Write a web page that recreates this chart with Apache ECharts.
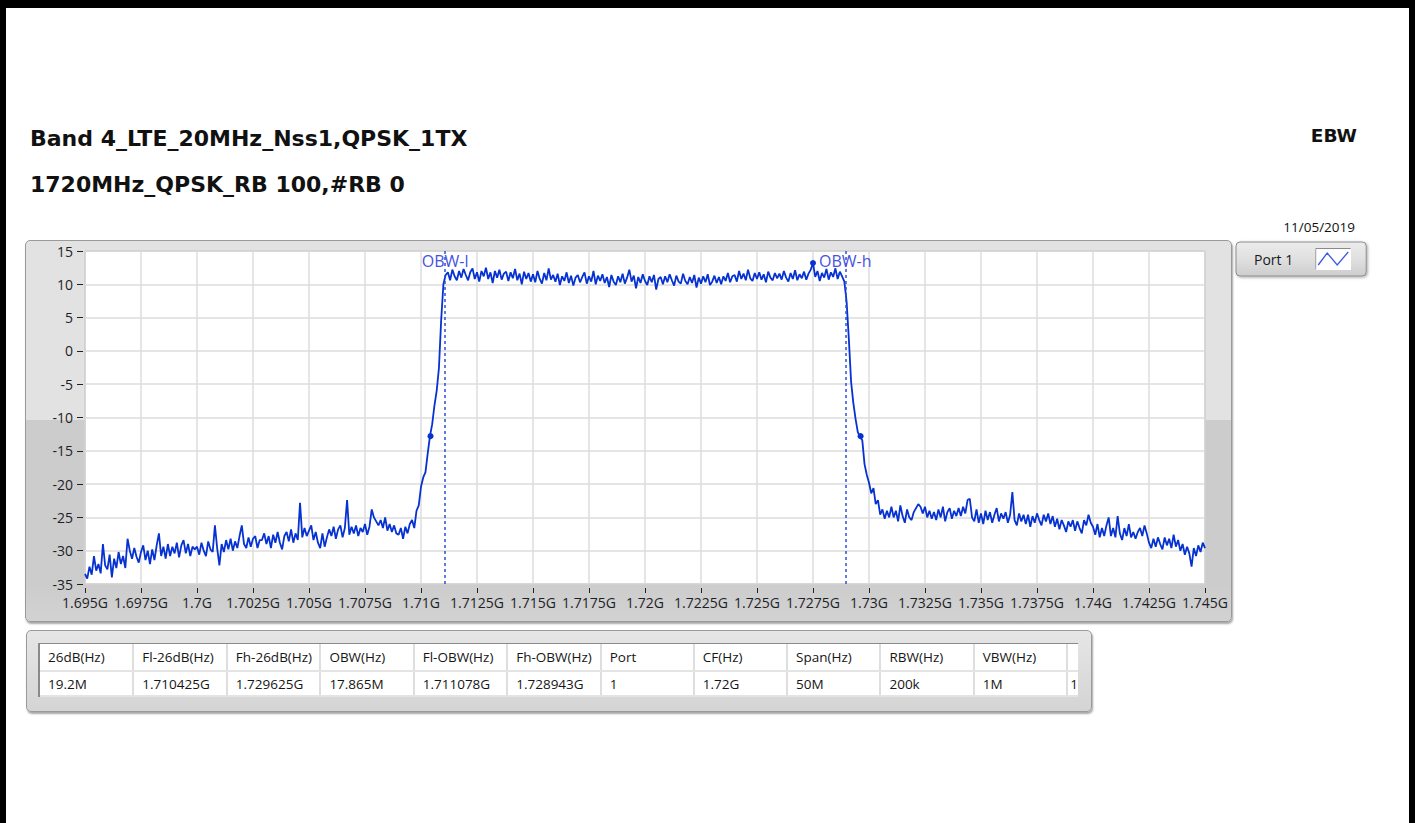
<!DOCTYPE html>
<html>
<head>
<meta charset="utf-8">
<script src="https://cdn.jsdelivr.net/npm/echarts@6/dist/echarts.min.js"></script>
<style>
  html, body { margin:0; padding:0; width:1415px; height:823px; overflow:hidden; background:#fff; }
  #frame { position:absolute; left:0; top:0; width:1415px; height:900px; box-sizing:border-box;
           border-left:6px solid #000; border-top:8px solid #000; border-right:6px solid #000; }
  #plotPanel { position:absolute; left:25px; top:240px; width:1207px; height:382px; box-sizing:border-box;
           border:1px solid #9a9a9a; border-radius:5px;
           background:linear-gradient(to bottom,#e2e2e2 0px,#e2e2e2 179px,#cccccc 179px,#cccccc 340px,#d2d2d2 100%);
           box-shadow:1px 2px 2px rgba(0,0,0,0.35); }
  #tablePanel { position:absolute; left:26px; top:630px; width:1066px; height:82px; box-sizing:border-box;
           border:1px solid #9a9a9a; border-radius:5px;
           background:linear-gradient(to bottom,#e6e6e6,#d4d4d4);
           box-shadow:1px 2px 2px rgba(0,0,0,0.35); }
  #tableBox { position:absolute; left:11px; top:12px; width:1040px; height:54px; background:#fff; overflow:hidden;
           border-left:2px solid #8a8a8a; border-top:1px solid #8a8a8a; box-sizing:border-box; }
  #tableBox table { border-collapse:collapse; table-layout:fixed; font-family:'Open Sans',sans-serif; font-size:13.5px; color:#151515; }
  #tableBox td { border-right:2px solid #dedede; border-bottom:2px solid #e4e4e4; padding:0 0 0 8px;
           white-space:nowrap; overflow:hidden; box-sizing:border-box; }
  #tableBox tr.h td { height:27px; }
  #tableBox tr.d td { height:25px; }
  #tableBox tr.e td { height:12px; }
  #tableBox td.cut { border-right:none; padding-left:2px; text-overflow:clip; }
  #tableBox tr.d td.cut { border-left:2px solid #f0c040; }
  #chart { position:absolute; left:0; top:0; width:1415px; height:823px; }
</style>
</head>
<body>
<div id="frame"></div>
<div id="plotPanel"></div>
<div id="tablePanel"><div id="tableBox"></div></div>
<div id="chart"></div>
<script>
// ---------- data ----------
const titleLine1 = 'Band 4_LTE_20MHz_Nss1,QPSK_1TX';
const titleLine2 = '1720MHz_QPSK_RB 100,#RB 0';
const modeLabel = 'EBW';
const dateLabel = '11/05/2019';
const seriesName = 'Port 1';

// sweep: 1695 MHz .. 1745 MHz, one reading every 0.1 MHz
const sweepStartMHz = 1695;
const sweepStepMHz = 0.1;

// dBm readings, 1695.0 .. 1709.9 MHz
const lowerSkirt = [
  -33.5,-34.2,-32.4,-33.6,-30.8,-33.0,-32.0,-33.4,-29.0,-32.2,
  -32.8,-30.6,-34.0,-31.2,-32.6,-30.2,-32.0,-30.8,-32.6,-28.2,
  -30.0,-31.2,-29.6,-30.9,-31.8,-30.2,-29.2,-31.4,-30.0,-32.0,
  -29.8,-31.4,-29.2,-27.4,-30.8,-29.4,-31.2,-29.0,-30.8,-29.4,
  -30.4,-28.8,-31.0,-29.2,-28.4,-30.4,-29.0,-30.8,-29.4,-29.8,
  -29.4,-30.6,-28.8,-30.0,-30.8,-28.6,-29.8,-30.2,-26.2,-29.6,
  -32.2,-29.0,-30.2,-28.4,-29.8,-28.2,-30.0,-28.6,-29.6,-27.8,
  -26.2,-29.0,-29.6,-28.0,-29.4,-28.2,-27.8,-29.6,-28.4,-28.4,
  -27.4,-29.0,-27.8,-29.6,-27.6,-28.8,-27.2,-28.8,-29.8,-27.8,
  -27.2,-28.6,-26.8,-28.8,-27.4,-28.4,-22.8,-28.0,-26.6,-27.8,
  -27.0,-26.2,-28.4,-27.2,-28.8,-29.6,-27.4,-29.4,-28.0,-26.8,
  -27.8,-26.4,-28.2,-26.8,-26.2,-28.0,-26.6,-22.4,-27.6,-26.4,
  -27.4,-26.2,-27.8,-26.6,-27.2,-26.0,-27.6,-26.4,-23.8,-25.0,
  -25.6,-26.2,-25.4,-26.6,-25.0,-27.0,-26.0,-27.2,-26.2,-27.4,
  -27.6,-26.6,-28.2,-26.4,-27.4,-26.0,-25.4,-26.6,-24.0,-23.2
];
// 1710.0 .. 1710.9 MHz
const lowerEdge = [-20.4,-19.0,-18.2,-15.4,-12.8,-11.0,-8.2,-6.0,-2.6,4.6];
// 1711.0 .. 1728.9 MHz
const inBand = [
  10.0,11.4,11.8,10.6,12.2,11.2,10.6,12.0,11.0,12.3,
  11.4,10.6,11.8,12.4,10.8,11.8,10.4,12.0,11.2,12.5,
  10.8,11.8,10.2,12.0,11.0,12.2,10.7,11.6,11.9,10.5,
  11.8,10.9,12.3,10.6,11.6,10.0,11.9,10.8,11.7,10.4,
  11.5,10.3,12.0,10.8,10.1,11.7,10.6,12.4,10.7,11.4,
  10.4,11.6,9.9,11.2,10.5,11.8,10.2,11.3,9.8,11.0,
  11.4,10.3,11.1,11.8,10.1,11.2,10.4,12.0,10.0,11.3,
  10.5,11.5,10.2,11.1,9.6,11.4,10.4,9.9,11.2,10.3,
  11.6,10.1,11.0,12.2,10.4,11.3,9.4,11.1,10.2,11.5,
  10.5,9.9,11.2,10.3,11.4,9.2,10.8,11.1,10.0,11.2,
  10.3,11.5,10.6,9.8,11.3,10.4,10.1,11.6,10.5,10.0,
  11.1,10.2,11.4,9.5,11.0,10.1,11.2,10.3,11.5,9.9,
  10.4,11.3,10.2,11.1,10.0,11.2,10.5,11.7,10.3,11.2,
  11.4,10.4,12.0,10.8,11.6,10.6,12.2,10.9,10.5,11.7,
  10.8,11.8,10.7,11.5,10.3,11.9,11.0,10.6,11.7,10.9,
  11.6,10.7,12.0,11.0,10.4,11.7,10.8,12.1,10.6,11.5,
  10.9,11.9,10.7,11.6,12.2,13.2,11.1,12.0,10.5,11.7,
  11.0,12.3,10.7,11.8,11.1,12.4,10.8,11.9,11.2,10.4
];
// 1729.0 .. 1730.9 MHz
const upperEdge = [7.4,1.8,-4.6,-7.8,-10.2,-12.2,-12.9,-13.4,-17.0,-18.6,
                   -19.8,-21.4,-20.6,-23.0,-22.4,-24.6,-23.8,-25.2,-24.0,-25.0];
// 1731.0 .. 1745.0 MHz
const upperSkirt = [
  -23.4,-25.0,-24.0,-25.6,-23.2,-24.8,-25.8,-23.8,-25.0,-25.4,
  -24.2,-23.6,-23.0,-23.4,-24.4,-23.4,-25.0,-24.0,-25.2,-24.2,
  -25.4,-23.8,-25.0,-23.4,-25.6,-24.2,-23.6,-25.2,-24.0,-24.8,
  -23.6,-24.8,-23.4,-24.4,-22.4,-22.2,-25.0,-25.6,-23.8,-25.8,
  -24.4,-26.0,-24.0,-25.4,-24.2,-25.8,-24.6,-23.6,-25.6,-24.4,
  -25.2,-24.2,-25.8,-24.6,-21.2,-25.4,-26.2,-24.4,-25.6,-24.6,
  -26.0,-24.6,-26.4,-24.8,-25.8,-24.4,-25.4,-26.2,-24.6,-25.6,
  -24.4,-26.0,-24.8,-26.4,-25.2,-26.8,-25.4,-26.2,-27.2,-25.6,
  -26.4,-25.4,-27.0,-25.6,-26.6,-27.4,-25.4,-26.2,-24.6,-25.8,
  -26.4,-27.6,-26.0,-28.0,-26.6,-27.8,-26.2,-25.0,-27.8,-26.6,
  -28.0,-24.8,-27.4,-28.4,-26.6,-27.8,-26.0,-28.0,-27.2,-28.2,
  -27.2,-26.6,-27.8,-26.2,-27.4,-28.8,-29.6,-28.2,-29.4,-28.0,
  -29.0,-29.8,-28.0,-29.2,-28.2,-29.6,-27.6,-29.4,-28.4,-30.0,
  -29.0,-30.6,-29.4,-30.4,-32.4,-29.6,-30.8,-29.2,-30.2,-28.8,
  -29.6
];

// markers (MHz, dB)
const obwLowMHz = 1711.078;
const obwHighMHz = 1728.943;
const obwNames = ['OBW-l', 'OBW-h'];
const peakMHz = 1727.5, peakLevel = 13.2;
const fl26MHz = 1710.425, fh26MHz = 1729.625, level26 = -12.8;

// axes
const xMinMHz = 1695, xMaxMHz = 1745, xStepMHz = 2.5;
const yMin = -35, yMax = 15, yStep = 5;

// result table
const tableHeaders = ['26dB(Hz)','Fl-26dB(Hz)','Fh-26dB(Hz)','OBW(Hz)','Fl-OBW(Hz)','Fh-OBW(Hz)','Port','CF(Hz)','Span(Hz)','RBW(Hz)','VBW(Hz)'];
const tableValues  = ['19.2M','1.710425G','1.729625G','17.865M','1.711078G','1.728943G','1','1.72G','50M','200k','1M'];

// ---------- table ----------
(function(){
  const colW = 93.6;
  let html = '<table><colgroup>';
  tableHeaders.forEach(()=>{ html += '<col style="width:'+colW+'px">'; });
  html += '<col style="width:8px"></colgroup>';
  html += '<tr class="h">' + tableHeaders.map(h=>'<td>'+h+'</td>').join('') + '<td class="cut"></td></tr>';
  html += '<tr class="d">' + tableValues.map(v=>'<td>'+v+'</td>').join('') + '<td class="cut">1</td></tr>';
  html += '<tr class="e">' + tableHeaders.map(()=>'<td></td>').join('') + '<td class="cut"></td></tr>';
  html += '</table>';
  document.getElementById('tableBox').innerHTML = html;
})();

// ---------- chart ----------
const levels = lowerSkirt.concat(lowerEdge, inBand, upperEdge, upperSkirt);
const trace = levels.map((v, i) => [Math.round((sweepStartMHz + i * sweepStepMHz) * 10) / 10, v]);

const traceColor = '#0632d2';
const iconSvg = "<svg xmlns='http://www.w3.org/2000/svg' width='36' height='22'>" +
  "<rect x='0' y='0' width='36' height='22' fill='#ffffff'/>" +
  "<path d='M0.5 21.5 V0.5 H35.5' fill='none' stroke='#8a8a8a'/>" +
  "<polyline points='3,17 12,5 22,17 33,4' fill='none' stroke='#3a5be0' stroke-width='1.3'/></svg>";
const iconUrl = 'image://data:image/svg+xml;charset=utf-8,' + encodeURIComponent(iconSvg);

const fmtX = v => parseFloat((v / 1000).toFixed(4)) + 'G';

const chart = echarts.init(document.getElementById('chart'), null, { renderer: 'svg' });
const titleFont = { fontFamily: 'DejaVu Sans', fontWeight: 'bold', fontSize: 22, color: '#111' };
chart.setOption({
  animation: false,
  backgroundColor: 'transparent',
  title: [
    { text: titleLine1, subtext: titleLine2, left: 25, top: 122, itemGap: 24,
      textStyle: titleFont, subtextStyle: titleFont },
    { text: modeLabel, right: 53, top: 121,
      textStyle: { fontFamily: 'DejaVu Sans', fontWeight: 'bold', fontSize: 18.5, color: '#111' } },
    { text: dateLabel, right: 55, top: 215,
      textStyle: { fontFamily: 'Open Sans', fontWeight: 'normal', fontSize: 13.5, color: '#111' } }
  ],
  legend: {
    left: 1236, top: 242, align: 'right', selectedMode: false,
    padding: [6, 15, 6, 18], itemWidth: 36, itemHeight: 22,
    backgroundColor: { type: 'linear', x: 0, y: 0, x2: 0, y2: 1,
      colorStops: [{ offset: 0, color: '#ececec' }, { offset: 0.5, color: '#e0e0e0' }, { offset: 1, color: '#cdcdcd' }] },
    borderColor: '#8d8d8d', borderWidth: 1, borderRadius: 4,
    shadowColor: 'rgba(0,0,0,0.35)', shadowBlur: 3, shadowOffsetX: 1, shadowOffsetY: 1,
    textStyle: { fontFamily: 'Open Sans', fontSize: 14, color: '#1a1a1a', padding: [0, 17, 0, 0] },
    data: [{ name: seriesName, icon: iconUrl }]
  },
  grid: { left: 85, top: 251, width: 1120, height: 333, show: true, backgroundColor: '#ffffff',
          borderColor: '#8c8c8c', borderWidth: 1, containLabel: false },
  xAxis: {
    type: 'value', min: xMinMHz, max: xMaxMHz, interval: xStepMHz, offset: 4,
    axisLine: { show: false, onZero: false },
    axisTick: { show: true, length: 5, lineStyle: { color: '#222', width: 1 } },
    axisLabel: { formatter: fmtX, margin: 7, fontFamily: 'Open Sans', fontSize: 14, color: '#1e1e28' },
    splitLine: { show: true, lineStyle: { color: '#dcdcdc', width: 1.5 } }
  },
  yAxis: {
    type: 'value', min: yMin, max: yMax, interval: yStep, offset: 2,
    axisLine: { show: false, onZero: false },
    axisTick: { show: true, length: 6, lineStyle: { color: '#222', width: 1 } },
    axisLabel: { margin: 10, fontFamily: 'Open Sans', fontSize: 14, color: '#1e1e28' },
    splitLine: { show: true, lineStyle: { color: '#dcdcdc', width: 1.5 } }
  },
  series: [{
    type: 'line', name: seriesName, data: trace, symbol: 'none', showSymbol: false, silent: true,
    lineStyle: { color: traceColor, width: 1.8 }, itemStyle: { color: traceColor },
    markLine: {
      symbol: 'none', silent: true, animation: false,
      lineStyle: { color: '#2d50d8', type: [3, 3], width: 1.5 },
      label: { show: true, position: 'end', formatter: p => p.name, color: '#4652e2',
               fontFamily: 'Open Sans', fontSize: 16, distance: -18 },
      data: [{ name: obwNames[0], xAxis: obwLowMHz }, { name: obwNames[1], xAxis: obwHighMHz }]
    },
    markPoint: {
      symbol: 'circle', symbolSize: 6, silent: true, animation: false,
      itemStyle: { color: traceColor }, label: { show: false },
      data: [{ coord: [peakMHz, peakLevel] }, { coord: [fl26MHz, level26] }, { coord: [fh26MHz, level26] }]
    }
  }]
});
</script>
</body>
</html>
